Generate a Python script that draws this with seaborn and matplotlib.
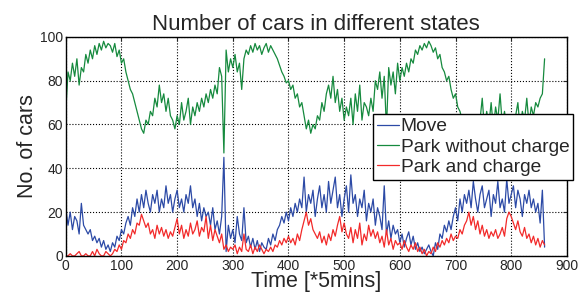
import numpy as np
import pandas as pd
import matplotlib
matplotlib.use("Agg")
import matplotlib.pyplot as plt
import seaborn as sns

# time axis, sampled every 4 steps of 5 minutes
time = list(range(0, 864, 4))

park_no_charge = [
    66, 84, 80, 88, 82, 90, 78, 86, 84, 92,
    88, 94, 90, 96, 92, 97, 94, 98, 95, 97,
    96, 93, 97, 91, 94, 88, 90, 84, 80, 76,
    74, 70, 66, 62, 58, 56, 62, 60, 66, 64,
    72, 68, 78, 70, 74, 66, 72, 64, 62, 58,
    64, 60, 70, 62, 66, 72, 60, 68, 64, 70,
    66, 72, 68, 74, 70, 76, 72, 78, 74, 86,
    82, 47, 94, 84, 90, 86, 92, 84, 88, 76,
    90, 94, 92, 96, 93, 97, 94, 96, 92, 95,
    97, 93, 96, 94, 92, 90, 87, 84, 82, 79,
    80, 76, 78, 72, 74, 68, 70, 64, 58, 62,
    56, 60, 58, 64, 62, 70, 66, 74, 78, 72,
    82, 70, 76, 66, 72, 62, 68, 64, 72, 60,
    74, 66, 78, 62, 70, 68, 64, 72, 66, 80,
    76, 84, 72, 82, 58, 86, 78, 84, 74, 88,
    80, 86, 82, 88, 84, 90, 88, 94, 92, 96,
    94, 97, 95, 98, 96, 93, 95, 90, 92, 86,
    84, 80, 82, 76, 72, 74, 68, 66, 62, 64,
    60, 62, 58, 64, 60, 56, 62, 72, 58, 66,
    60, 70, 58, 68, 62, 74, 60, 66, 58, 62,
    56, 60, 64, 70, 58, 66, 62, 72, 60, 68,
    64, 70, 68, 72, 74, 90,
]

move = [
    22, 14, 20, 12, 18, 16, 10, 24, 14, 12,
    10, 12, 7, 9, 6, 8, 4, 7, 3, 5,
    2, 6, 4, 9, 7, 12, 10, 15, 18, 14,
    22, 18, 26, 20, 28, 22, 30, 24, 20, 28,
    24, 30, 20, 26, 22, 32, 24, 28, 20, 26,
    30, 22, 26, 20, 28, 24, 32, 22, 26, 18,
    24, 16, 22, 18, 20, 14, 22, 12, 16, 10,
    18, 45, 2, 14, 8, 12, 6, 18, 10, 7,
    22, 6, 9, 4, 8, 3, 7, 2, 6, 4,
    3, 8, 5, 10, 7, 12, 14, 18, 15, 20,
    16, 22, 18, 24, 20, 26, 22, 36, 20, 28,
    24, 30, 18, 26, 32, 22, 28, 20, 34, 24,
    30, 36, 22, 28, 18, 26, 32, 20, 37, 24,
    28, 18, 26, 22, 30, 16, 24, 20, 26, 14,
    22, 18, 12, 32, 10, 16, 8, 14, 10, 12,
    6, 10, 4, 8, 11, 5, 9, 3, 6, 2,
    4, 1, 3, 5, 2, 0, 6, 3, 10, 8,
    14, 11, 16, 12, 18, 22, 16, 26, 20, 28,
    24, 30, 22, 34, 26, 20, 28, 32, 22, 26,
    30, 18, 28, 24, 34, 22, 26, 20, 35, 24,
    28, 32, 22, 30, 26, 18, 28, 24, 30, 22,
    26, 20, 24, 15, 30, 4,
]

park_charge = [
    0, 0, 1, 0, 0, 1, 2, 0, 0, 1,
    0, 0, 2, 0, 3, 1, 0, 0, 2, 1,
    0, 1, 3, 2, 5, 3, 7, 6, 10, 8,
    12, 10, 15, 14, 19, 16, 13, 15, 10, 12,
    8, 14, 10, 13, 9, 12, 8, 11, 9, 13,
    17, 10, 14, 8, 12, 9, 15, 10, 12, 16,
    9, 13, 11, 18, 8, 14, 7, 12, 9, 6,
    10, 3, 5, 2, 4, 3, 5, 1, 4, 2,
    10, 3, 2, 5, 1, 4, 2, 5, 3, 1,
    3, 2, 4, 2, 5, 4, 7, 5, 8, 6,
    9, 6, 8, 5, 10, 7, 12, 16, 20, 14,
    17, 12, 10, 8, 11, 6, 9, 5, 10, 7,
    12, 9, 14, 18, 11, 15, 10, 8, 13, 6,
    12, 8, 15, 5, 10, 7, 14, 9, 12, 8,
    11, 6, 9, 4, 12, 5, 8, 3, 7, 5,
    6, 3, 7, 4, 2, 5, 3, 6, 2, 4,
    1, 3, 0, 2, 1, 4, 2, 6, 4, 7,
    5, 8, 6, 10, 7, 9, 8, 12, 10, 14,
    16, 20, 14, 18, 12, 16, 10, 14, 9, 12,
    8, 11, 9, 12, 8, 10, 13, 9, 17, 20,
    18, 15, 12, 16, 11, 9, 13, 8, 10, 6,
    9, 5, 8, 4, 7, 5,
]

states = ["Move", "Park without charge", "Park and charge"]
colors = {"Move": "#2c4aa6", "Park without charge": "#168a3e", "Park and charge": "#f22a2a"}

df = pd.concat([
    pd.DataFrame({"time": time, "cars": move, "state": "Move"}),
    pd.DataFrame({"time": time, "cars": park_no_charge, "state": "Park without charge"}),
    pd.DataFrame({"time": time, "cars": park_charge, "state": "Park and charge"}),
])

sns.set_style("white")
plt.rcParams["font.family"] = ["Liberation Sans", "DejaVu Sans"]

fig = plt.figure(figsize=(5.82, 3.0), dpi=100)
ax = fig.add_axes([0.113, 0.147, 0.861, 0.730])

sns.lineplot(data=df, x="time", y="cars", hue="state", hue_order=states,
             palette=colors, linewidth=0.9, ax=ax)

ax.set_xlim(0, 900)
ax.set_ylim(0, 100)
ax.set_xticks(range(0, 901, 100))
ax.set_yticks(range(0, 101, 20))
ax.grid(True, color="black", linestyle=":", linewidth=0.8)
ax.tick_params(direction="in", top=True, right=True, labelsize=10, length=3)
ax.tick_params(axis="x", pad=2)
ax.tick_params(axis="y", pad=2)
for s in ax.spines.values():
    s.set_color("black")
    s.set_linewidth(1.0)

ax.set_title("Number of cars in different states", fontsize=16, pad=5)
ax.set_xlabel("Time [*5mins]", fontsize=15.5, labelpad=-1)
ax.set_ylabel("No. of cars", fontsize=15.5, labelpad=1)

leg = ax.legend(loc="upper left", bbox_to_anchor=(373 / 582, 1 - 114 / 300),
                bbox_transform=fig.transFigure, fontsize=13.8, frameon=True,
                fancybox=False, handlelength=1.15, handletextpad=0.1,
                borderpad=0.2, labelspacing=0.15, borderaxespad=0)
leg.get_frame().set_edgecolor("black")
leg.get_frame().set_linewidth(1.0)
leg.get_frame().set_alpha(1.0)

fig.savefig("out.png", dpi=100)
